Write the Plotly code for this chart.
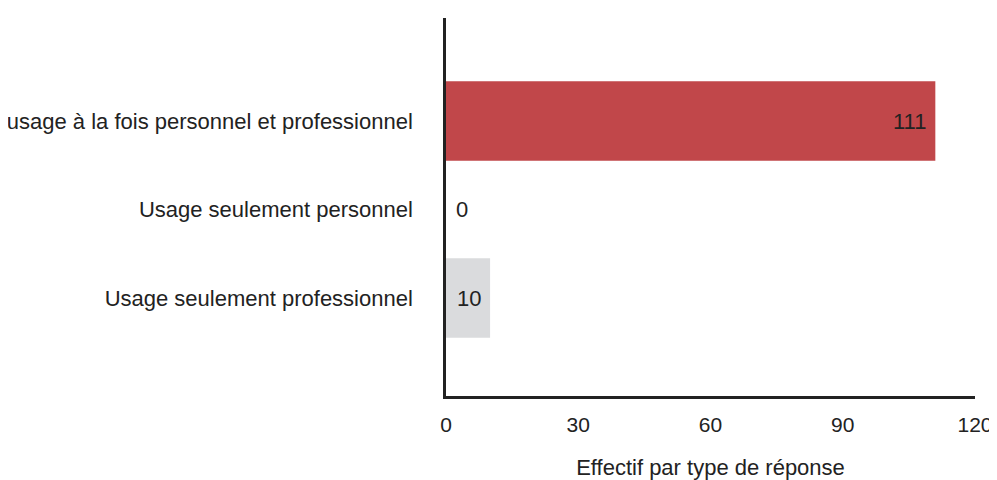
import plotly.graph_objects as go

categories = ["usage à la fois personnel et professionnel",
              "Usage seulement personnel",
              "Usage seulement professionnel"]
values = [111, 0, 10]
bar_colors = ["#C1474A", "#C1474A", "#DADBDD"]
x_ticks = [0, 30, 60, 90, 120]
x_title = "Effectif par type de réponse"

FONT = "Liberation Sans, Arial, sans-serif"
TXT = "#222222"
FS = 22

fig = go.Figure()
fig.add_trace(go.Bar(
    x=values, y=categories, orientation="h",
    marker=dict(color=bar_colors, line=dict(width=0)),
    hoverinfo="skip",
))

for v, c in zip(values, categories):
    inside = v > 0
    fig.add_annotation(
        x=v, y=c, xref="x", yref="y", text=str(v), showarrow=False,
        xanchor="right" if inside else "left",
        xshift=-7 if inside else 8,
        font=dict(family=FONT, size=FS, color=TXT),
    )

# page body has an 8px margin, so the figure is 8px smaller each way
fig.update_layout(
    width=989, height=472,
    margin=dict(l=438, r=22, t=10, b=84, autoexpand=False),
    paper_bgcolor="white", plot_bgcolor="white",
    showlegend=False,
    bargap=0.1,
    font=dict(family=FONT, size=FS, color=TXT),
    xaxis=dict(
        range=[0, 120], tickvals=x_ticks, ticktext=[str(t) for t in x_ticks],
        showgrid=False, zeroline=False, showline=True, automargin=False,
        linecolor="#222222", linewidth=2.5, ticks="",
        tickfont=dict(family=FONT, size=21, color=TXT),
        ticklabelstandoff=8,
        title=dict(text=x_title, font=dict(family=FONT, size=FS, color=TXT), standoff=25),
    ),
    yaxis=dict(
        type="category", categoryorder="array", categoryarray=categories,
        range=[3.107, -1.164], automargin=False,
        showgrid=False, zeroline=False, showline=True,
        linecolor="#222222", linewidth=2.5, ticks="",
        tickfont=dict(family=FONT, size=FS, color=TXT),
        ticklabelstandoff=26,
    ),
)

fig.write_html("out.html")
